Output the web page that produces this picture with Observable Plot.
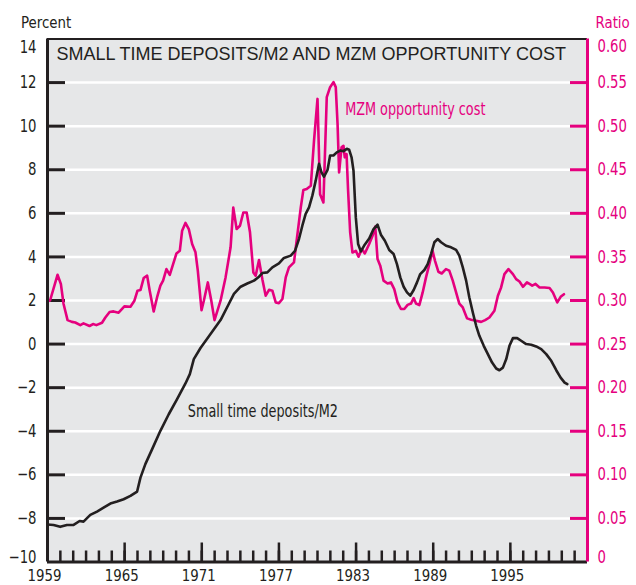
<!DOCTYPE html>
<html>
<head>
<meta charset="utf-8">
<script src="https://cdn.jsdelivr.net/npm/d3@7"></script>
<script src="https://cdn.jsdelivr.net/npm/@observablehq/plot@0.6"></script>
<style>
  html, body { margin: 0; padding: 0; background: #ffffff; }
  #chart svg { display: block; }
</style>
</head>
<body>
<div id="chart"></div>
<script>
// MZM opportunity cost, percent (left scale)
const mzmYears = [
  1959.00, 1959.20, 1959.78, 1960.04, 1960.25, 1960.56, 1960.90, 1961.16, 1961.55, 1961.80,
  1962.27, 1962.54, 1962.80, 1963.24, 1963.50, 1963.83, 1964.14, 1964.53, 1964.98, 1965.45,
  1965.76, 1966.00, 1966.23, 1966.48, 1966.75, 1966.95, 1967.26, 1967.52, 1967.78, 1967.99,
  1968.25, 1968.51, 1968.77, 1969.03, 1969.29, 1969.47, 1969.73, 1969.99, 1970.25, 1970.51,
  1970.69, 1970.98, 1971.16, 1971.47, 1971.74, 1971.99, 1972.46, 1972.85, 1973.24, 1973.45,
  1973.71, 1973.97, 1974.23, 1974.49, 1974.75, 1975.01, 1975.19, 1975.45, 1975.71, 1975.97,
  1976.23, 1976.49, 1976.75, 1977.00, 1977.27, 1977.53, 1977.78, 1978.17, 1978.44, 1978.70,
  1978.90, 1979.16, 1979.48, 1979.73, 1980.00, 1980.20, 1980.46, 1980.72, 1980.98, 1981.24,
  1981.42, 1981.56, 1981.68, 1981.87, 1982.02, 1982.12, 1982.26, 1982.38, 1982.54, 1982.72,
  1982.98, 1983.19, 1983.45, 1983.68, 1984.02, 1984.28, 1984.49, 1984.67, 1984.88, 1985.14,
  1985.45, 1985.71, 1985.97, 1986.23, 1986.49, 1986.75, 1987.01, 1987.27, 1987.48, 1987.66,
  1987.92, 1988.18, 1988.44, 1988.70, 1988.95, 1989.14, 1989.40, 1989.66, 1989.99, 1990.25,
  1990.52, 1990.78, 1991.03, 1991.30, 1991.63, 1991.95, 1992.34, 1992.73, 1993.04, 1993.37,
  1993.76, 1994.03, 1994.28, 1994.54, 1994.85, 1995.20, 1995.45, 1995.71, 1995.98, 1996.29,
  1996.49, 1996.70, 1996.96, 1997.27, 1997.66, 1998.05, 1998.31, 1998.65, 1998.91, 1999.17
];
const mzmPercent = [
  1.97, 2.00, 3.18, 2.76, 1.84, 1.10, 1.02, 0.99, 0.87, 0.95,
  0.83, 0.92, 0.87, 0.98, 1.22, 1.47, 1.50, 1.44, 1.73, 1.71,
  1.99, 2.45, 2.48, 3.03, 3.14, 2.45, 1.50, 2.14, 2.68, 2.91,
  3.44, 3.18, 3.67, 4.16, 4.28, 5.20, 5.56, 5.28, 4.59, 4.21,
  3.37, 1.56, 1.99, 2.83, 1.99, 1.10, 1.99, 3.06, 4.44, 6.26,
  5.28, 5.43, 6.04, 6.04, 5.13, 3.29, 3.14, 3.86, 2.98, 2.22,
  2.49, 2.45, 1.91, 1.88, 2.07, 3.06, 3.52, 3.75, 5.05, 6.27,
  7.07, 7.12, 7.27, 9.34, 11.25, 6.88, 6.50, 11.33, 11.79, 12.02,
  11.79, 10.10, 7.88, 9.03, 9.10, 8.57, 8.72, 7.04, 5.13, 4.20,
  4.28, 4.01, 4.36, 4.16, 4.59, 4.97, 5.39, 3.90, 3.60, 2.91,
  2.78, 2.83, 2.52, 1.91, 1.61, 1.61, 1.80, 1.86, 2.11, 1.86,
  1.79, 2.37, 3.06, 3.67, 4.28, 3.82, 3.32, 3.24, 3.44, 3.37,
  2.91, 2.37, 1.86, 1.68, 1.18, 1.12, 1.07, 1.02, 1.10, 1.22,
  1.53, 2.22, 2.60, 3.21, 3.44, 3.21, 2.98, 2.87, 2.63, 2.83,
  2.76, 2.68, 2.76, 2.60, 2.60, 2.57, 2.37, 1.91, 2.17, 2.29
];

// Small time deposits / M2, ratio (right scale)
const stdYears = [
  1959.00, 1959.47, 1959.99, 1960.51, 1961.03, 1961.50, 1961.80, 1962.33, 1962.85, 1963.36,
  1963.89, 1964.41, 1964.92, 1965.45, 1965.97, 1966.23, 1966.61, 1967.14, 1967.78, 1968.43,
  1969.08, 1969.73, 1970.07, 1970.38, 1970.90, 1971.68, 1972.46, 1973.10, 1973.50, 1974.02,
  1974.54, 1975.06, 1975.45, 1975.71, 1976.10, 1976.49, 1977.00, 1977.39, 1977.92, 1978.25,
  1978.56, 1978.82, 1979.08, 1979.34, 1979.60, 1979.86, 1980.12, 1980.31, 1980.51, 1980.78,
  1980.98, 1981.24, 1981.50, 1981.76, 1982.02, 1982.28, 1982.46, 1982.65, 1982.80, 1982.98,
  1983.16, 1983.37, 1983.63, 1984.02, 1984.36, 1984.67, 1984.93, 1985.24, 1985.58, 1985.92,
  1986.18, 1986.44, 1986.70, 1986.96, 1987.21, 1987.48, 1987.74, 1987.99, 1988.31, 1988.57,
  1988.83, 1989.09, 1989.35, 1989.61, 1990.00, 1990.39, 1990.78, 1991.03, 1991.30, 1991.56,
  1991.81, 1992.08, 1992.34, 1992.59, 1992.93, 1993.25, 1993.58, 1993.90, 1994.15, 1994.42,
  1994.68, 1994.93, 1995.20, 1995.53, 1995.84, 1996.23, 1996.62, 1997.01, 1997.40, 1997.79,
  1998.18, 1998.57, 1998.91, 1999.22, 1999.43
];
const stdRatio = [
  0.0430, 0.0425, 0.0403, 0.0425, 0.0425, 0.0470, 0.0463, 0.0540, 0.0578, 0.0623,
  0.0670, 0.0693, 0.0720, 0.0758, 0.0808, 0.0968, 0.1123, 0.1295, 0.1505, 0.1695,
  0.1868, 0.2048, 0.2155, 0.2328, 0.2455, 0.2615, 0.2775, 0.2960, 0.3075, 0.3158,
  0.3195, 0.3228, 0.3273, 0.3315, 0.3323, 0.3380, 0.3425, 0.3488, 0.3515, 0.3570,
  0.3705, 0.3858, 0.3993, 0.4068, 0.4203, 0.4375, 0.4568, 0.4470, 0.4420, 0.4498,
  0.4663, 0.4663, 0.4700, 0.4720, 0.4713, 0.4740, 0.4730, 0.4643, 0.4490, 0.3953,
  0.3648, 0.3563, 0.3630, 0.3710, 0.3820, 0.3870, 0.3755, 0.3685, 0.3580, 0.3533,
  0.3418, 0.3265, 0.3158, 0.3093, 0.3055, 0.3120, 0.3208, 0.3303, 0.3350, 0.3418,
  0.3533, 0.3668, 0.3705, 0.3668, 0.3628, 0.3610, 0.3580, 0.3515, 0.3380, 0.3228,
  0.3035, 0.2863, 0.2710, 0.2595, 0.2480, 0.2385, 0.2288, 0.2220, 0.2200, 0.2230,
  0.2328, 0.2480, 0.2568, 0.2568, 0.2538, 0.2500, 0.2493, 0.2473, 0.2443, 0.2385,
  0.2308, 0.2200, 0.2115, 0.2058, 0.2040
];

// Axis ticks
const percentTicks = [-8, -6, -4, -2, 0, 2, 4, 6, 8, 10, 12];
const yearMinorTicks = d3.range(1960, 2001);
const yearMajorTicks = [1965, 1971, 1977, 1983, 1989, 1995];
const yearLabels = [1959, 1965, 1971, 1977, 1983, 1989, 1995];

// Texts
const titleText = "SMALL TIME DEPOSITS/M2 AND MZM OPPORTUNITY COST";
const seriesLabels = [
  {text: "MZM opportunity cost", year: 1982.15, percent: 10.78, series: "mzm"},
  {text: "Small time deposits/M2", year: 1969.91, percent: -3.07, series: "std"}
];

// The ratio scale is laid over the percent scale: 0 ↔ −10 %, 0.60 ↔ 14 %
const ratioToPercent = (r) => r / 0.025 - 10;
const percentToRatio = (p) => (p + 10) * 0.025;
const fmtRatio = (p) => { const r = percentToRatio(p); return r === 0 ? "0" : r.toFixed(2); };

const mzm = mzmYears.map((t, i) => ({t, v: mzmPercent[i]}));
const std = stdYears.map((t, i) => ({t, v: ratioToPercent(stdRatio[i])}));

const PINK = "#e5007e";
const INK = "#231f20";
const PANEL = "#e6e7e8";
const NARROW_FACE = "DejaVu Sans Condensed";
const NARROW = `'${NARROW_FACE}', 'DejaVu Sans', sans-serif`;
const WIDE = "'Liberation Sans', Arial, Helvetica, sans-serif";

const SIZE_TICK = 17.5;
const SIZE_YEAR = 16.5;
const SIZE_SERIES = 18.5;
const SIZE_UNIT = 16.5;

const chart = Plot.plot({
  width: 636,
  height: 585,
  marginLeft: 47,
  marginRight: 49,
  marginTop: 38.5,
  marginBottom: 23.5,
  x: {domain: [1959, 2001], axis: null},
  y: {domain: [-10, 14], axis: null},
  style: {fontFamily: NARROW, background: "#ffffff", overflow: "visible"},
  marks: [
    Plot.frame({fill: PANEL, stroke: "none"}),
    Plot.gridY(percentTicks, {stroke: "#ffffff", strokeOpacity: 1, strokeWidth: 2.5}),

    // left axis: inward ticks and labels
    Plot.axisY(percentTicks, {anchor: "left", tickSize: -18, stroke: INK, strokeWidth: 3, fill: "none", label: null}),
    Plot.axisY(percentTicks, {anchor: "left", tickSize: 0, tickPadding: 11, fill: INK, fontSize: SIZE_TICK, label: null}),
    Plot.axisY([14], {anchor: "left", tickSize: 0, tickPadding: 11, fill: INK, fontSize: SIZE_TICK, dy: 8, label: null}),
    Plot.axisY([-10], {anchor: "left", tickSize: 0, tickPadding: 11, fill: INK, fontSize: SIZE_TICK, dy: -4.5, label: null}),

    // right axis: ratio
    Plot.axisY(percentTicks, {anchor: "right", tickSize: -18, stroke: PINK, strokeWidth: 3, fill: "none", label: null}),
    Plot.axisY(percentTicks, {anchor: "right", tickSize: 0, tickPadding: 10, fill: PINK, fontSize: SIZE_TICK, tickFormat: fmtRatio, label: null}),
    Plot.axisY([14], {anchor: "right", tickSize: 0, tickPadding: 10, fill: PINK, fontSize: SIZE_TICK, tickFormat: fmtRatio, dy: 7.5, label: null}),
    Plot.axisY([-10], {anchor: "right", tickSize: 0, tickPadding: 10, fill: PINK, fontSize: SIZE_TICK, tickFormat: fmtRatio, dy: -5, label: null}),

    // bottom axis: yearly ticks, taller every six years
    Plot.axisX(yearMinorTicks, {anchor: "bottom", tickSize: -11, stroke: INK, strokeWidth: 2.5, fill: "none", label: null}),
    Plot.axisX(yearMajorTicks, {anchor: "bottom", tickSize: -19, stroke: INK, strokeWidth: 2.5, fill: "none", label: null}),
    Plot.axisX(yearLabels, {anchor: "bottom", tickSize: 0, tickPadding: 7, fill: INK, fontSize: SIZE_YEAR, dx: -3, tickFormat: "d", label: null}),

    // series
    Plot.line(mzm, {x: "t", y: "v", stroke: PINK, strokeWidth: 2.6, strokeLinejoin: "round"}),
    Plot.line(std, {x: "t", y: "v", stroke: INK, strokeWidth: 2.6, strokeLinejoin: "round"}),

    // panel borders
    Plot.ruleY([14], {stroke: INK, strokeWidth: 2}),
    Plot.ruleY([-10], {stroke: INK, strokeWidth: 3}),
    Plot.ruleX([1959], {stroke: INK, strokeWidth: 3}),
    Plot.ruleX([2001], {stroke: PINK, strokeWidth: 3}),

    // texts
    Plot.text([titleText], {text: (d) => d, frameAnchor: "top-left", dx: 9, dy: 15.5, textAnchor: "start", lineAnchor: "middle",
      fontFamily: WIDE, fontSize: 18, fill: INK}),
    Plot.text(seriesLabels, {x: "year", y: "percent", text: "text", textAnchor: "start", lineAnchor: "middle", fontSize: SIZE_SERIES,
      fill: (d) => d.series === "mzm" ? PINK : INK}),
    Plot.text(["Percent"], {text: (d) => d, frameAnchor: "top-left", dx: -26.5, dy: -16.5, textAnchor: "start", lineAnchor: "middle",
      fontSize: SIZE_UNIT, fill: INK}),
    Plot.text(["Ratio"], {text: (d) => d, frameAnchor: "top-right", dx: 8, dy: -16.5, textAnchor: "start", lineAnchor: "middle",
      fontSize: SIZE_UNIT, fill: PINK})
  ]
});

document.getElementById("chart").appendChild(chart);

// Compress the condensed lettering further, like a narrow grotesque.
// Widths are measured on a canvas with the same face and size.
const measureCtx = document.createElement("canvas").getContext("2d");
const squeezeBySize = new Map([
  [SIZE_SERIES, 0.77],
  [SIZE_UNIT, 0.81],
  [SIZE_TICK, 0.84],
  [SIZE_YEAR, 0.9]
]);
chart.querySelectorAll("text").forEach((node) => {
  const family = node.closest("[font-family]");
  if (family && family.getAttribute("font-family") === WIDE) return;
  const holder = node.closest("[font-size]");
  if (!holder) return;
  const size = +holder.getAttribute("font-size");
  const k = squeezeBySize.get(size);
  if (!k) return;
  measureCtx.font = `${size}px '${NARROW_FACE}'`;
  const w = measureCtx.measureText(node.textContent).width;
  if (w > 0) {
    node.setAttribute("textLength", (w * k).toFixed(2));
    node.setAttribute("lengthAdjust", "spacingAndGlyphs");
  }
});
</script>
</body>
</html>
